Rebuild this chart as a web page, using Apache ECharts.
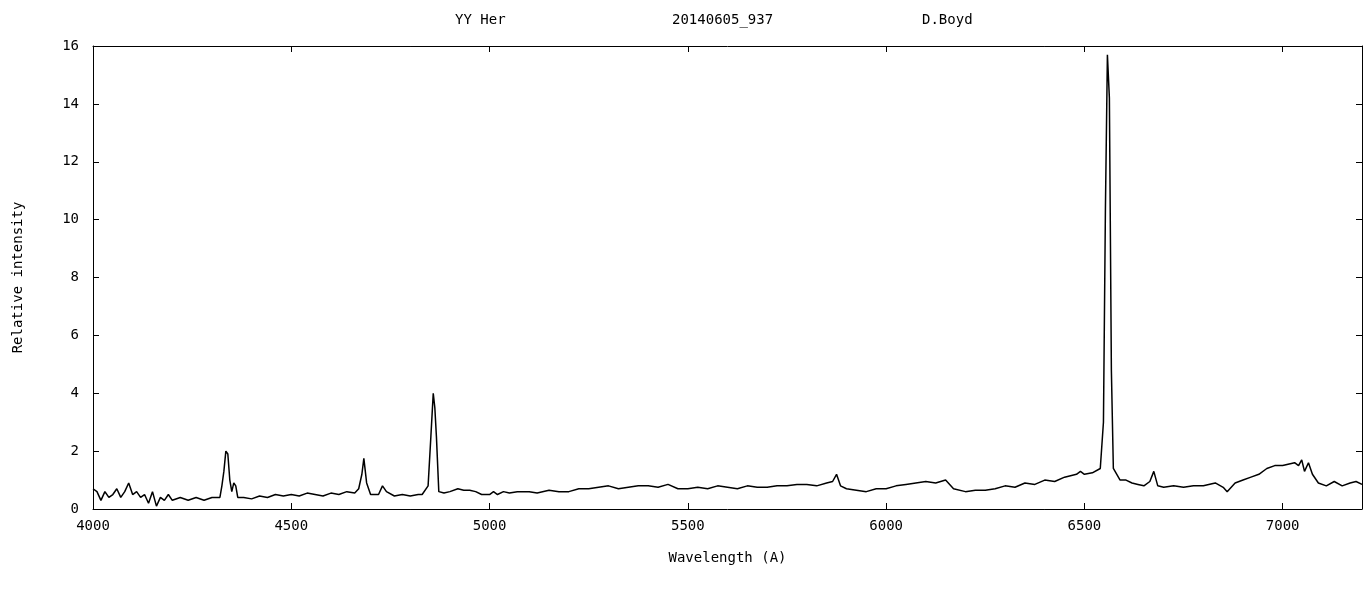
<!DOCTYPE html>
<html>
<head>
<meta charset="utf-8">
<script src="https://cdn.jsdelivr.net/npm/echarts@6/dist/echarts.min.js"></script>
<style>body{margin:0;background:#fff}#chart{width:1372px;height:592px}</style>
</head>
<body>
<div id="chart"></div>
<script>
// Spectrum readings (wavelength in A, relative intensity)
const wavelength = [4000,4010,4020,4030,4040,4050,4060,4070,4080,4090,4100,4110,4120,4130,4140,4150,4160,4170,4180,4190,4200,4220,4240,4260,4280,4300,4320,4325,4330,4335,4340,4345,4350,4355,4360,4365,4380,4400,4420,4440,4460,4480,4500,4520,4540,4560,4580,4600,4620,4640,4660,4670,4678,4683,4690,4700,4720,4730,4740,4760,4780,4800,4820,4830,4845,4852,4858,4862,4866,4872,4885,4900,4920,4935,4950,4965,4980,5000,5010,5020,5035,5050,5070,5100,5120,5150,5175,5200,5225,5250,5275,5300,5325,5350,5375,5400,5425,5450,5475,5500,5525,5550,5575,5600,5625,5650,5675,5700,5725,5750,5775,5800,5825,5850,5865,5875,5885,5900,5925,5950,5975,6000,6025,6050,6075,6100,6125,6150,6170,6200,6225,6250,6275,6300,6325,6350,6375,6400,6425,6450,6480,6490,6500,6520,6540,6548,6553,6558,6563,6568,6573,6590,6605,6620,6635,6650,6665,6675,6685,6700,6725,6750,6775,6800,6830,6850,6860,6880,6900,6920,6940,6960,6980,7000,7030,7040,7048,7055,7065,7075,7090,7110,7130,7150,7170,7185,7200];
const intensity = [0.7,0.6,0.3,0.6,0.4,0.5,0.7,0.4,0.6,0.9,0.5,0.6,0.4,0.5,0.2,0.6,0.1,0.4,0.3,0.5,0.3,0.4,0.3,0.4,0.3,0.4,0.4,0.8,1.3,2.0,1.9,1.0,0.6,0.9,0.8,0.4,0.4,0.35,0.45,0.4,0.5,0.45,0.5,0.45,0.55,0.5,0.45,0.55,0.5,0.6,0.55,0.7,1.2,1.75,0.9,0.5,0.5,0.8,0.6,0.45,0.5,0.45,0.5,0.5,0.8,2.5,4.0,3.5,2.5,0.6,0.55,0.6,0.7,0.65,0.65,0.6,0.5,0.5,0.6,0.5,0.6,0.55,0.6,0.6,0.55,0.65,0.6,0.6,0.7,0.7,0.75,0.8,0.7,0.75,0.8,0.8,0.75,0.85,0.7,0.7,0.75,0.7,0.8,0.75,0.7,0.8,0.75,0.75,0.8,0.8,0.85,0.85,0.8,0.9,0.95,1.2,0.8,0.7,0.65,0.6,0.7,0.7,0.8,0.85,0.9,0.95,0.9,1.0,0.7,0.6,0.65,0.65,0.7,0.8,0.75,0.9,0.85,1.0,0.95,1.1,1.2,1.3,1.2,1.25,1.4,3.0,10.4,15.7,14.2,4.8,1.4,1.0,1.0,0.9,0.85,0.8,0.95,1.3,0.8,0.75,0.8,0.75,0.8,0.8,0.9,0.75,0.6,0.9,1.0,1.1,1.2,1.4,1.5,1.5,1.6,1.5,1.7,1.3,1.6,1.2,0.9,0.8,0.95,0.8,0.9,0.95,0.85,0.9];
const titleParts = ['YY Her', '20140605_937', 'D.Boyd'];

const font = 'DejaVu Sans Mono';
const chart = echarts.init(document.getElementById('chart'));

const axisCommon = {
  axisLine: { onZero: false, lineStyle: { color: '#000', width: 1 } },
  axisTick: { inside: true, length: 6, lineStyle: { color: '#000' } },
  splitLine: { show: false }
};
const txt = { fontFamily: font, fontSize: 14, color: '#000' };

chart.setOption({
  animation: false,
  title: [
    { text: titleParts[0], left: 450, top: 8 },
    { text: titleParts[1], left: 667, top: 8 },
    { text: titleParts[2], left: 917, top: 8 }
  ].map(t => Object.assign(t, { textStyle: Object.assign({ fontWeight: 'normal' }, txt) })),
  grid: { left: 93, right: 10, top: 46, bottom: 83, outerBoundsMode: 'none' },
  xAxis: [
    Object.assign({
      type: 'value', min: 4000, max: 7200, interval: 500,
      name: 'Wavelength (A)', nameLocation: 'middle', nameGap: 42,
      nameTextStyle: txt,
      axisLabel: Object.assign({ margin: 10, showMaxLabel: false, formatter: v => String(v) }, txt)
    }, axisCommon),
    Object.assign({
      type: 'value', min: 4000, max: 7200, interval: 500, position: 'top',
      axisLabel: { show: false }
    }, axisCommon)
  ],
  yAxis: [
    Object.assign({
      type: 'value', min: 0, max: 16, interval: 2,
      name: 'Relative intensity', nameLocation: 'middle', nameGap: 68,
      nameTextStyle: txt,
      axisLabel: Object.assign({ margin: 14 }, txt)
    }, axisCommon),
    Object.assign({
      type: 'value', min: 0, max: 16, interval: 2, position: 'right',
      axisLabel: { show: false }
    }, axisCommon)
  ],
  series: [{
    type: 'line',
    data: wavelength.map((w, i) => [w, intensity[i]]),
    showSymbol: false,
    lineStyle: { color: '#000', width: 1.5 }
  }]
});
</script>
</body>
</html>
